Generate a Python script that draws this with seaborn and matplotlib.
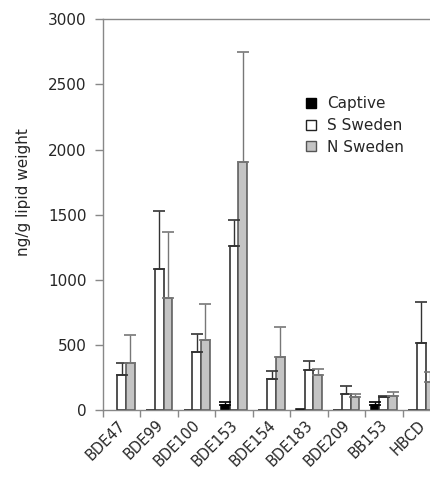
import numpy as np
import pandas as pd
import matplotlib
matplotlib.use("Agg")
import matplotlib.pyplot as plt
import matplotlib.transforms as mtransforms
import seaborn as sns
from matplotlib.lines import Line2D

compounds = ["BDE47", "BDE99", "BDE100", "BDE153", "BDE154", "BDE183", "BDE209", "BB153", "HBCD"]
groups = ["Captive", "S Sweden", "N Sweden"]
captive = [np.nan, 0, 0, 38, 0, 12, 0, 41, 0]
s_sweden = [268, 1087, 447, 1261, 240, 307, 128, 105, 516]
n_sweden = [361, 862, 537, 1903, 407, 268, 102, 112, 220]
captive_sd = [np.nan, 0, 0, 23, 0, 0, 0, 20, 0]
s_sweden_sd = [97, 445, 141, 199, 59, 71, 59, 7, 318]
n_sweden_sd = [214, 504, 279, 849, 235, 51, 26, 26, 74]
yticks = [0, 500, 1000, 1500, 2000, 2500, 3000]

sns.set_theme(style="white")
plt.rcParams["font.family"] = ["DejaVu Sans"]
FS = 11

rows = []
for g, vals, sds in [("Captive", captive, captive_sd), ("S Sweden", s_sweden, s_sweden_sd),
                     ("N Sweden", n_sweden, n_sweden_sd)]:
    for c, v, s in zip(compounds, vals, sds):
        rows.append({"compound": c, "group": g, "value": v, "sd": s})
df = pd.DataFrame(rows)

fill = {"Captive": "#000000", "S Sweden": "#ffffff", "N Sweden": "#c4c4c4"}
edge = {"Captive": "#000000", "S Sweden": "#222222", "N Sweden": "#555555"}
errc = {"Captive": "#000000", "S Sweden": "#333333", "N Sweden": "#777777"}

fig = plt.figure(figsize=(4.3, 4.83), dpi=100)
ax = fig.add_axes([103 / 430, 72.7 / 483, 337 / 430, 391 / 483])

sns.barplot(data=df.dropna(subset=["value"]), x="compound", y="value", hue="group",
            order=compounds, hue_order=groups, palette=fill, width=0.7, gap=0,
            errorbar=None, ax=ax, legend=False, saturation=1)

for cont, g in zip(ax.containers, groups):
    sub = df[df.group == g].set_index("compound")
    for bar in cont:
        bar.set_edgecolor(edge[g])
        bar.set_linewidth(1.1)
        xc = bar.get_x() + bar.get_width() / 2
        idx = int(round(xc))
        c = compounds[idx]
        v = sub.loc[c, "value"]
        s = sub.loc[c, "sd"]
        if np.isfinite(s) and s > 0:
            ax.errorbar(xc, v, yerr=[[0], [s]], fmt="none", ecolor=errc[g],
                        elinewidth=1.0, capsize=4.5, capthick=1.2, zorder=1)

ax.set_xlim(-0.5, 8.5)
ax.set_ylim(0, 3000)
ax.set_yticks(yticks)
ax.set_yticklabels([str(t) for t in yticks], fontsize=FS)
ax.set_xticks(range(len(compounds)))
ax.set_xticklabels(compounds, fontsize=10.5, rotation=45, ha="right", rotation_mode="anchor")
ax.set_xticks(np.arange(-0.5, 9, 1), minor=True)
ax.tick_params(axis="x", which="major", length=0, pad=9)
ax.tick_params(axis="x", which="minor", length=5, width=1, color="#888888", direction="out", bottom=True)
ax.tick_params(axis="y", length=6, width=1, color="#888888", direction="out", left=True, pad=6)
shift = mtransforms.ScaledTranslation(1.5 / 100, 0, fig.dpi_scale_trans)
for lab in ax.get_xticklabels():
    lab.set_va("center")
    lab.set_transform(lab.get_transform() + shift)

ax.set_xlabel("")
ax.set_ylabel("ng/g lipid weight", fontsize=FS)
ax.yaxis.set_label_coords(-0.215, 0.558)

for sp in ["left", "bottom", "top"]:
    ax.spines[sp].set_visible(True)
    ax.spines[sp].set_color("#888888")
    ax.spines[sp].set_linewidth(1.0)
ax.spines["right"].set_visible(False)
ax.grid(False)

handles = [Line2D([], [], marker="s", linestyle="none", markersize=6.5,
                  markerfacecolor=fill[g], markeredgecolor=edge[g], markeredgewidth=1.0)
           for g in groups]
fig.legend(handles, groups, loc="upper left", bbox_to_anchor=(303 / 430, 1 - 96 / 483),
           frameon=False, fontsize=FS, handlelength=1.0, handletextpad=0.6,
           labelspacing=0.45, borderpad=0, borderaxespad=0)

fig.savefig("out.png", dpi=100)
